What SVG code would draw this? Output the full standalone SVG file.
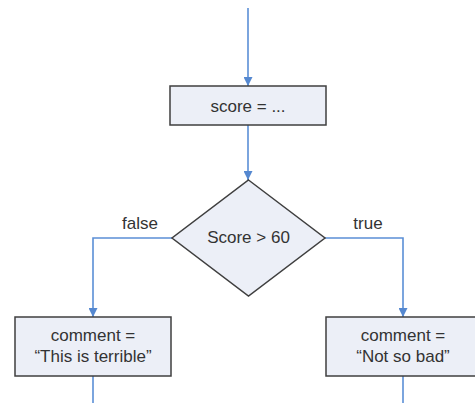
<svg xmlns="http://www.w3.org/2000/svg" width="475" height="403" viewBox="0 0 475 403">
<defs>
<marker id="arr" viewBox="0 0 10 10" refX="10" refY="5" markerWidth="9" markerHeight="9" markerUnits="userSpaceOnUse" orient="auto">
<path d="M0,0 L10,5 L0,10 Z" fill="#5588d0"/>
</marker>
</defs>
<style>
.node{fill:#eceff7;stroke:#3f3f3f;stroke-width:1.5}
.conn{fill:none;stroke:#5b8fd6;stroke-width:1.6}
.t{font-family:"Liberation Sans",Arial,sans-serif;font-size:17px;fill:#333;text-anchor:middle}
</style>
<rect width="475" height="403" fill="#fff"/>
<g id="connectors">
<line class="conn" x1="248" y1="8" x2="248" y2="86" marker-end="url(#arr)"/>
<line class="conn" x1="248" y1="125" x2="248" y2="180" marker-end="url(#arr)"/>
<polyline class="conn" points="172,238 93,238 93,317" marker-end="url(#arr)"/>
<polyline class="conn" points="325,238 403,238 403,317" marker-end="url(#arr)"/>
<line class="conn" x1="93" y1="376" x2="93" y2="403"/>
<line class="conn" x1="403" y1="376" x2="403" y2="403"/>
<text class="t" x="140" y="229">false</text>
<text class="t" x="368" y="229">true</text>
</g>
<g id="score">
<rect class="node" x="170" y="86" width="156" height="39"/>
<text class="t" x="248" y="112">score = ...</text>
</g>
<g id="decision">
<polygon class="node" points="248.5,180 325,238 248.5,296 172,238"/>
<text class="t" x="248.5" y="243">Score &gt; 60</text>
</g>
<g id="terrible">
<rect class="node" x="15" y="317" width="156" height="59"/>
<text class="t" x="93" y="341">comment =</text>
<text class="t" x="93" y="362">“This is terrible”</text>
</g>
<g id="notbad">
<rect class="node" x="326" y="317" width="156" height="59"/>
<text class="t" x="403" y="341">comment =</text>
<text class="t" x="403" y="362">“Not so bad”</text>
</g>
</svg>
